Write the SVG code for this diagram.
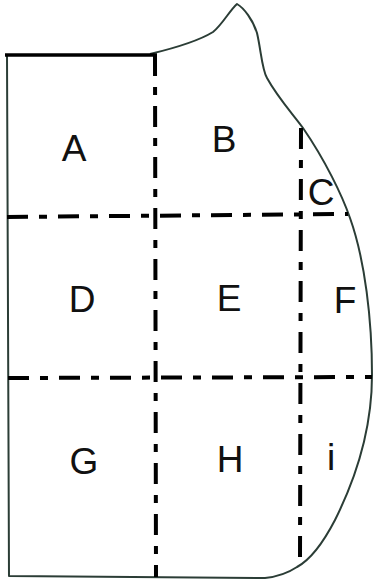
<svg xmlns="http://www.w3.org/2000/svg" width="376" height="582" viewBox="0 0 376 582">
<style>
.outline{fill:none;stroke:#2b3d36;stroke-width:2;stroke-linejoin:round}
.top{fill:none;stroke:#000;stroke-width:3.5}
.dash{fill:none;stroke:#000;stroke-width:4;stroke-dasharray:21 11 8 11}
.lbl{font-family:"Liberation Sans",Arial,sans-serif;font-size:37px;fill:#111;text-anchor:middle}
</style>
<rect width="376" height="582" fill="#fff"/>
<g id="outline">
<path class="outline" d="M150,54 C175,48 200,40 213,32 C222,25 230,10 237,4 C244,8 253,20 257,33 C261,50 262,70 267,78 C278,98 292,113 303,128 C325,160 342,195 350,218 C365,260 372,320 372,375 C372,430 355,480 335,520 C322,545 310,560 297,567 C285,575 275,577 265,578 L9,576 L7,55"/>
<line class="top" x1="5" y1="55" x2="157" y2="55"/>
</g>
<g id="connectors">
<line class="dash" x1="155" y1="55" x2="156" y2="577"/>
<line class="dash" x1="301" y1="128" x2="300" y2="562"/>
<line class="dash" x1="7" y1="217" x2="348" y2="214"/>
<line class="dash" x1="8" y1="378" x2="372" y2="377"/>
</g>
<g id="A"><text class="lbl" x="74" y="161">A</text></g>
<g id="B"><text class="lbl" x="224" y="152">B</text></g>
<g id="C"><text class="lbl" x="321" y="205">C</text></g>
<g id="D"><text class="lbl" x="82" y="312">D</text></g>
<g id="E"><text class="lbl" x="229" y="311">E</text></g>
<g id="F"><text class="lbl" x="345" y="313">F</text></g>
<g id="G"><text class="lbl" x="84" y="474">G</text></g>
<g id="H"><text class="lbl" x="230" y="472">H</text></g>
<g id="i"><text class="lbl" x="331" y="470">i</text></g>
</svg>
